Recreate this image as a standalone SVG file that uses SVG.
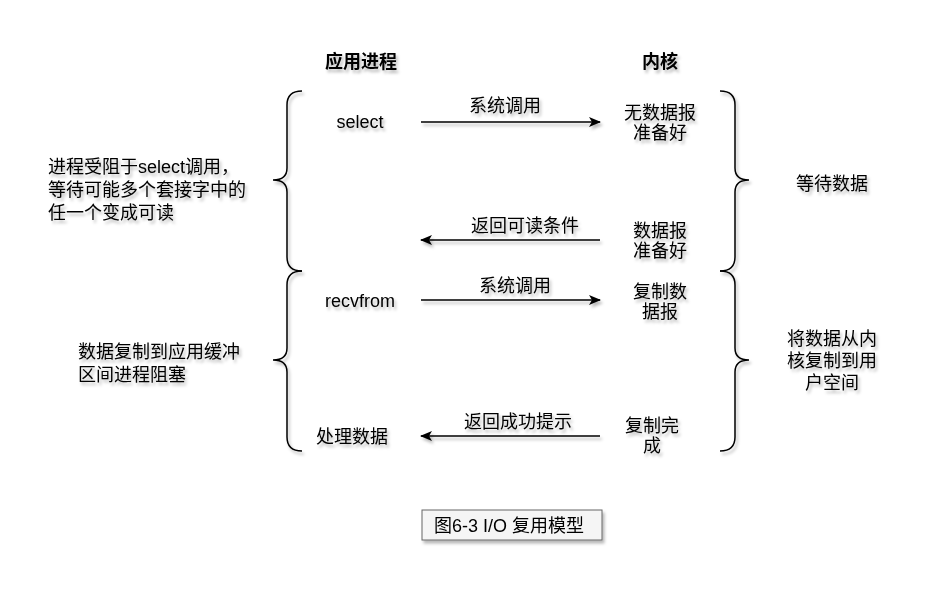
<svg xmlns="http://www.w3.org/2000/svg" width="948" height="603" viewBox="0 0 948 603">
  <defs>
    <filter id="shadow" x="-20%" y="-20%" width="140%" height="140%">
      <feDropShadow dx="2" dy="3" stdDeviation="1.6" flood-color="#000" flood-opacity="0.28"/>
    </filter>
    <marker id="arrow" viewBox="0 0 12 10" refX="11" refY="5" markerWidth="12" markerHeight="10" markerUnits="userSpaceOnUse" orient="auto">
      <path d="M0,0 L12,5 L0,10 L3,5 Z" fill="#000"/>
    </marker>
  </defs>
  <style>
    text { font-family: "Liberation Sans", "Noto Sans CJK SC", sans-serif; font-size: 18px; fill: #000; }
    .title { font-weight: bold; }
    .mid { text-anchor: middle; }
    .brace { fill: none; stroke: #000; stroke-width: 1.5; }
    .link { fill: none; stroke: #000; stroke-width: 1.3; marker-end: url(#arrow); }
    .caption-box { fill: #f5f5f5; stroke: #666; stroke-width: 1; }
  </style>
  <rect width="948" height="603" fill="#fff"/>

  <g filter="url(#shadow)">
    <!-- column headings -->
    <g id="head-app"><text class="title mid" x="361" y="68">应用进程</text></g>
    <g id="head-kernel"><text class="title mid" x="660" y="68">内核</text></g>

    <!-- braces -->
    <g id="brace-left-wait"><path class="brace" d="M302,91 Q287,91 287,105 L287,168 Q287,180 273,180 Q287,180 287,192 L287,257 Q287,271 302,271"/></g>
    <g id="brace-left-copy"><path class="brace" d="M302,271 Q287,271 287,285 L287,348 Q287,360 273,360 Q287,360 287,372 L287,437 Q287,451 302,451"/></g>
    <g id="brace-right-wait"><path class="brace" d="M720,91 Q735,91 735,105 L735,168 Q735,180 749,180 Q735,180 735,192 L735,257 Q735,271 720,271"/></g>
    <g id="brace-right-copy"><path class="brace" d="M720,271 Q735,271 735,285 L735,348 Q735,360 749,360 Q735,360 735,372 L735,437 Q735,451 720,451"/></g>

    <!-- application side -->
    <g id="app-select"><text class="mid" x="360" y="128">select</text></g>
    <g id="app-recvfrom"><text class="mid" x="360" y="307">recvfrom</text></g>
    <g id="app-process"><text class="mid" x="352" y="443">处理数据</text></g>

    <!-- kernel side -->
    <g id="k-nodata"><text class="mid" x="660" y="119">无数据报</text><text class="mid" x="660" y="139">准备好</text></g>
    <g id="k-ready"><text class="mid" x="660" y="237">数据报</text><text class="mid" x="660" y="257">准备好</text></g>
    <g id="k-copying"><text class="mid" x="660" y="298">复制数</text><text class="mid" x="660" y="318">据报</text></g>
    <g id="k-done"><text class="mid" x="652" y="432">复制完</text><text class="mid" x="652" y="452">成</text></g>

    <!-- side notes -->
    <g id="note-blocked">
      <text x="48" y="173">进程受阻于select调用，</text>
      <text x="48" y="196">等待可能多个套接字中的</text>
      <text x="48" y="219">任一个变成可读</text>
    </g>
    <g id="note-copy-blocked">
      <text x="78" y="358">数据复制到应用缓冲</text>
      <text x="78" y="381">区间进程阻塞</text>
    </g>
    <g id="note-wait"><text class="mid" x="832" y="190">等待数据</text></g>
    <g id="note-copy">
      <text class="mid" x="832" y="345">将数据从内</text>
      <text class="mid" x="832" y="367">核复制到用</text>
      <text class="mid" x="832" y="389">户空间</text>
    </g>

    <!-- connectors -->
    <g id="connectors">
      <path class="link" d="M421,122 L600,122"/>
      <text class="mid" x="505" y="112">系统调用</text>
      <path class="link" d="M600,240 L421,240"/>
      <text class="mid" x="525" y="232">返回可读条件</text>
      <path class="link" d="M421,300 L600,300"/>
      <text class="mid" x="515" y="292">系统调用</text>
      <path class="link" d="M600,436 L421,436"/>
      <text class="mid" x="518" y="428">返回成功提示</text>
    </g>

    <!-- caption -->
    <g id="caption">
      <rect class="caption-box" x="422" y="510" width="180" height="30"/>
      <text class="mid" x="509" y="532">图6-3 I/O 复用模型</text>
    </g>
  </g>
</svg>
